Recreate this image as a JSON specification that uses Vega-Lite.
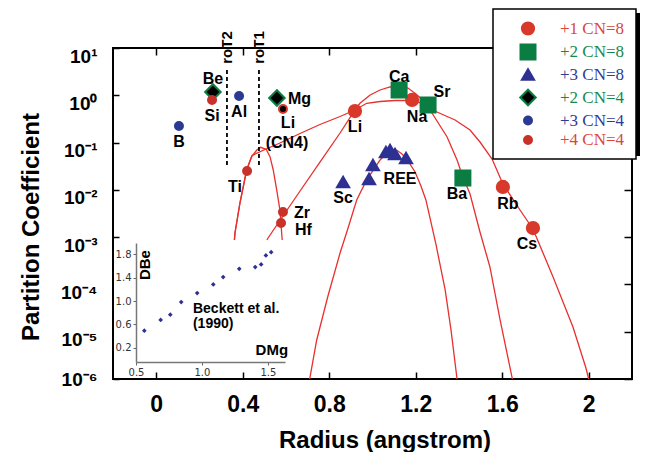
{
 "$schema": "https://vega.github.io/schema/vega-lite/v6.json",
 "width": 519,
 "height": 331,
 "autosize": "none",
 "padding": {"left": 113, "top": 48, "right": 17, "bottom": 73},
 "background": "white",
 "config": {
  "view": {"stroke": "black", "strokeWidth": 2},
  "axis": {"grid": false, "domain": false, "tickColor": "black", "tickWidth": 1.5, "labelFont": "Liberation Sans", "titleFont": "Liberation Sans", "labelColor": "black", "titleColor": "black"},
  "text": {"font": "Liberation Sans", "fontWeight": "bold", "fontSize": 16, "color": "black"},
  "legend": {"strokeWidth": 1.5}
 },
 "datasets": {
  "pts": [
   {"el": "Li", "r": 0.919, "D": 0.465, "grp": "+1 CN=8"},
   {"el": "Na", "r": 1.183, "D": 0.795, "grp": "+1 CN=8"},
   {"el": "Rb", "r": 1.603, "D": 0.0115, "grp": "+1 CN=8"},
   {"el": "Cs", "r": 1.742, "D": 0.00156, "grp": "+1 CN=8"},
   {"el": "Ca", "r": 1.123, "D": 1.294, "grp": "+2 CN=8"},
   {"el": "Sr", "r": 1.257, "D": 0.623, "grp": "+2 CN=8"},
   {"el": "Ba", "r": 1.418, "D": 0.0178, "grp": "+2 CN=8"},
   {"el": "Sc", "r": 0.864, "D": 0.0147, "grp": "+3 CN=8"},
   {"el": "REE1", "r": 0.984, "D": 0.0170, "grp": "+3 CN=8"},
   {"el": "REE2", "r": 1.002, "D": 0.0336, "grp": "+3 CN=8"},
   {"el": "REE3", "r": 1.062, "D": 0.0632, "grp": "+3 CN=8"},
   {"el": "REE4", "r": 1.081, "D": 0.0697, "grp": "+3 CN=8"},
   {"el": "REE5", "r": 1.104, "D": 0.0573, "grp": "+3 CN=8"},
   {"el": "REE6", "r": 1.155, "D": 0.0472, "grp": "+3 CN=8"},
   {"el": "Be", "r": 0.262, "D": 1.174, "grp": "+2 CN=4"},
   {"el": "Mg", "r": 0.558, "D": 0.876, "grp": "+2 CN=4"},
   {"el": "B", "r": 0.105, "D": 0.224, "grp": "+3 CN=4"},
   {"el": "Al", "r": 0.383, "D": 0.966, "grp": "+3 CN=4"},
   {"el": "Si", "r": 0.258, "D": 0.795, "grp": "+4 CN=4"},
   {"el": "Ti", "r": 0.420, "D": 0.0251, "grp": "+4 CN=4"},
   {"el": "Zr", "r": 0.586, "D": 0.0034, "grp": "+4 CN=4"},
   {"el": "Hf", "r": 0.577, "D": 0.00199, "grp": "+4 CN=4"},
   {"el": "LiCN4", "r": 0.586, "D": 0.513, "grp": "Li4"}
  ],
  "curves": [
   {"curve": "c4", "r": 0.3615, "D": 0.000871},
   {"curve": "c4", "r": 0.364, "D": 0.001225},
   {"curve": "c4", "r": 0.387, "D": 0.00527},
   {"curve": "c4", "r": 0.418, "D": 0.0263},
   {"curve": "c4", "r": 0.441, "D": 0.0503},
   {"curve": "c4", "r": 0.465, "D": 0.0697},
   {"curve": "c4", "r": 0.483, "D": 0.0795},
   {"curve": "c4", "r": 0.508, "D": 0.0721},
   {"curve": "c4", "r": 0.526, "D": 0.0503},
   {"curve": "c4", "r": 0.541, "D": 0.0263},
   {"curve": "c4", "r": 0.557, "D": 0.00994},
   {"curve": "c4", "r": 0.572, "D": 0.00375},
   {"curve": "c4", "r": 0.580, "D": 0.001225},
   {"curve": "c4", "r": 0.5825, "D": 0.000871},
   {"curve": "c1", "r": 0.3615, "D": 0.000871},
   {"curve": "c1", "r": 0.364, "D": 0.001225},
   {"curve": "c1", "r": 0.387, "D": 0.00527},
   {"curve": "c1", "r": 0.418, "D": 0.0263},
   {"curve": "c1", "r": 0.443, "D": 0.0533},
   {"curve": "c1", "r": 0.503, "D": 0.0714},
   {"curve": "c1", "r": 0.572, "D": 0.098},
   {"curve": "c1", "r": 0.665, "D": 0.1556},
   {"curve": "c1", "r": 0.757, "D": 0.2412},
   {"curve": "c1", "r": 0.850, "D": 0.356},
   {"curve": "c1", "r": 0.919, "D": 0.489},
   {"curve": "c1", "r": 0.973, "D": 0.677},
   {"curve": "c1", "r": 1.035, "D": 0.739},
   {"curve": "c1", "r": 1.104, "D": 0.776},
   {"curve": "c1", "r": 1.183, "D": 0.776},
   {"curve": "c1", "r": 1.243, "D": 0.654},
   {"curve": "c1", "r": 1.298, "D": 0.443},
   {"curve": "c1", "r": 1.382, "D": 0.300},
   {"curve": "c1", "r": 1.451, "D": 0.1845},
   {"curve": "c1", "r": 1.497, "D": 0.1028},
   {"curve": "c1", "r": 1.553, "D": 0.0449},
   {"curve": "c1", "r": 1.603, "D": 0.0133},
   {"curve": "c1", "r": 1.682, "D": 0.00375},
   {"curve": "c1", "r": 1.742, "D": 0.00149},
   {"curve": "c1", "r": 1.835, "D": 0.000144},
   {"curve": "c1", "r": 1.927, "D": 0.0000126},
   {"curve": "c1", "r": 1.987, "D": 0.00000171},
   {"curve": "c1", "r": 2.001, "D": 0.00000095},
   {"curve": "c2", "r": 0.512, "D": 0.000871},
   {"curve": "c2", "r": 0.517, "D": 0.00096},
   {"curve": "c2", "r": 0.586, "D": 0.0028},
   {"curve": "c2", "r": 0.665, "D": 0.00946},
   {"curve": "c2", "r": 0.757, "D": 0.0388},
   {"curve": "c2", "r": 0.850, "D": 0.1594},
   {"curve": "c2", "r": 0.919, "D": 0.489},
   {"curve": "c2", "r": 0.942, "D": 0.677},
   {"curve": "c2", "r": 0.989, "D": 1.014},
   {"curve": "c2", "r": 1.035, "D": 1.294},
   {"curve": "c2", "r": 1.081, "D": 1.497},
   {"curve": "c2", "r": 1.127, "D": 1.572},
   {"curve": "c2", "r": 1.164, "D": 1.426},
   {"curve": "c2", "r": 1.201, "D": 1.065},
   {"curve": "c2", "r": 1.257, "D": 0.623},
   {"curve": "c2", "r": 1.275, "D": 0.422},
   {"curve": "c2", "r": 1.345, "D": 0.1312},
   {"curve": "c2", "r": 1.391, "D": 0.0428},
   {"curve": "c2", "r": 1.418, "D": 0.0187},
   {"curve": "c2", "r": 1.451, "D": 0.00818},
   {"curve": "c2", "r": 1.497, "D": 0.001285},
   {"curve": "c2", "r": 1.543, "D": 0.000234},
   {"curve": "c2", "r": 1.590, "D": 0.0000177},
   {"curve": "c2", "r": 1.645, "D": 0.0000011},
   {"curve": "c2", "r": 1.650, "D": 0.000000824},
   {"curve": "c3", "r": 0.7087, "D": 0.00000095},
   {"curve": "c3", "r": 0.742, "D": 0.00000669},
   {"curve": "c3", "r": 0.794, "D": 0.000057},
   {"curve": "c3", "r": 0.850, "D": 0.000462},
   {"curve": "c3", "r": 0.887, "D": 0.00156},
   {"curve": "c3", "r": 0.927, "D": 0.00611},
   {"curve": "c3", "r": 0.973, "D": 0.0162},
   {"curve": "c3", "r": 1.035, "D": 0.0428},
   {"curve": "c3", "r": 1.072, "D": 0.0632},
   {"curve": "c3", "r": 1.092, "D": 0.0700},
   {"curve": "c3", "r": 1.113, "D": 0.0685},
   {"curve": "c3", "r": 1.135, "D": 0.058},
   {"curve": "c3", "r": 1.158, "D": 0.0449},
   {"curve": "c3", "r": 1.197, "D": 0.0239},
   {"curve": "c3", "r": 1.224, "D": 0.01208},
   {"curve": "c3", "r": 1.247, "D": 0.00611},
   {"curve": "c3", "r": 1.294, "D": 0.000683},
   {"curve": "c3", "r": 1.336, "D": 0.0000763},
   {"curve": "c3", "r": 1.363, "D": 0.0000109},
   {"curve": "c3", "r": 1.391, "D": 0.000001},
   {"curve": "c3", "r": 1.392, "D": 0.00000082}
  ],
  "r0": [
   {"lab": "roT2", "r": 0.327},
   {"lab": "roT1", "r": 0.475}
  ],
  "inset": [
   {"dmg": 0.563, "dbe": 0.494},
   {"dmg": 0.687, "dbe": 0.677},
   {"dmg": 0.760, "dbe": 0.767},
   {"dmg": 0.843, "dbe": 0.983},
   {"dmg": 0.964, "dbe": 1.136},
   {"dmg": 1.086, "dbe": 1.284},
   {"dmg": 1.161, "dbe": 1.409},
   {"dmg": 1.283, "dbe": 1.550},
   {"dmg": 1.404, "dbe": 1.579},
   {"dmg": 1.449, "dbe": 1.625},
   {"dmg": 1.485, "dbe": 1.778},
   {"dmg": 1.525, "dbe": 1.834}
  ]
 },
 "layer": [
  {
   "data": {"name": "curves"},
   "mark": {"type": "line", "clip": true, "color": "#e8302e", "strokeWidth": 1.3},
   "encoding": {
    "x": {"field": "r", "type": "quantitative", "scale": {"domain": [-0.2, 2.2], "nice": false, "zero": false},
          "axis": {"orient": "top", "values": [0, 0.4, 0.8, 1.2, 1.6, 2], "labels": false, "tickSize": -7, "title": null}},
    "y": {"field": "D", "type": "quantitative", "scale": {"type": "log", "domain": [0.000001, 10], "nice": false},
          "axis": {"orient": "right", "values": [0.000001, 0.00001, 0.0001, 0.001, 0.01, 0.1, 1, 10], "labels": false, "tickSize": -8, "title": null}},
    "detail": {"field": "curve"}
   }
  },
  {
   "data": {"name": "r0"},
   "mark": {"type": "rule", "color": "black", "strokeWidth": 1.8, "strokeDash": [4, 3]},
   "encoding": {
    "x": {"field": "r", "type": "quantitative", "scale": {"domain": [-0.2, 2.2], "nice": false, "zero": false}, "axis": null},
    "y": {"datum": 3.43, "type": "quantitative", "scale": {"type": "log", "domain": [0.000001, 10], "nice": false}, "axis": null},
    "y2": {"datum": 0.029}
   }
  },
  {
   "data": {"values": [{}]},
   "mark": {"type": "rect", "fill": "black"},
   "encoding": {
    "x": {"datum": 1.5757, "type": "quantitative", "scale": {"domain": [-0.2, 2.2], "nice": false, "zero": false}, "axis": null},
    "x2": {"datum": 2.237},
    "y": {"datum": 54.95, "type": "quantitative", "scale": {"type": "log", "domain": [0.000001, 10], "nice": false}, "axis": null},
    "y2": {"datum": 0.052}
   }
  },
  {
   "data": {"name": "pts"},
   "transform": [{"filter": "datum.grp != 'Li4'"}],
   "mark": {"type": "point", "filled": true, "strokeWidth": 2, "opacity": 1},
   "encoding": {
    "x": {"field": "r", "type": "quantitative", "scale": {"domain": [-0.2, 2.2], "nice": false, "zero": false},
          "axis": {"orient": "bottom", "values": [0, 0.4, 0.8, 1.2, 1.6, 2], "format": "~g", "tickSize": -7, "labelPadding": 21,
                   "labelFontSize": 23, "labelFontWeight": "bold", "labelFlush": false, "labelOverlap": false,
                   "title": "Radius (angstrom)", "titleFontSize": 24, "titleFontWeight": "bold",
                   "titleX": 271.5, "titleY": 68, "titleBaseline": "alphabetic", "titleAlign": "center"}},
    "y": {"field": "D", "type": "quantitative", "scale": {"type": "log", "domain": [0.000001, 10], "nice": false},
          "axis": {"orient": "left", "values": [0.000001, 0.00001, 0.0001, 0.001, 0.01, 0.1, 1, 10],
                   "labelExpr": "['10⁻⁶','10⁻⁵','10⁻⁴','10⁻³','10⁻²','10⁻¹','10⁰','10¹'][round(log(datum.value)/LN10)+6]",
                   "tickSize": -6, "labelPadding": 22, "labelFontSize": 19, "labelFontWeight": "bold",
                   "labelOffset": {"condition": {"test": "datum.value < 0.000002", "value": 0}, "value": 8},
                   "tickOpacity": {"condition": {"test": "datum.value < 0.0002 && datum.value > 0.000002", "value": 0}, "value": 1},
                   "labelFlush": false, "labelOverlap": false,
                   "title": "Partition Coefficient", "titleFontSize": 24, "titleFontWeight": "bold", "titleAngle": 270,
                   "titleX": -75, "titleY": 178.5, "titleBaseline": "alphabetic", "titleAlign": "center"}},
    "fill": {"field": "grp", "type": "nominal",
             "scale": {"domain": ["+1 CN=8", "+2 CN=8", "+3 CN=8", "+2 CN=4", "+3 CN=4", "+4 CN=4"],
                       "range": ["#d8392b", "#0a7d43", "#2e3192", "#000000", "#2b3a93", "#c8322b"]},
             "legend": {"title": null, "orient": "none", "legendX": 380, "legendY": -39, "padding": 11,
                        "strokeColor": "black", "fillColor": "white",
                        "labelFont": "Liberation Serif", "labelFontSize": 17, "labelFontWeight": "normal",
                        "labelColor": {"expr": "slice(datum.label,0,2) == '+2' ? '#168a4c' : slice(datum.label,0,2) == '+3' ? '#2f3c95' : '#d9473a'"},
                        "rowPadding": 1.5, "labelOffset": 23, "symbolOffset": 15, "symbolStrokeWidth": 2, "labelLimit": 200}},
    "stroke": {"field": "grp", "type": "nominal",
               "scale": {"domain": ["+1 CN=8", "+2 CN=8", "+3 CN=8", "+2 CN=4", "+3 CN=4", "+4 CN=4"],
                         "range": ["#d8392b", "#0a7d43", "#2e3192", "#0a7d43", "#2b3a93", "#c8322b"]}},
    "shape": {"field": "grp", "type": "nominal",
              "scale": {"domain": ["+1 CN=8", "+2 CN=8", "+3 CN=8", "+2 CN=4", "+3 CN=4", "+4 CN=4"],
                        "range": ["circle", "square", "triangle-up", "diamond", "circle", "circle"]}},
    "size": {"field": "grp", "type": "nominal",
             "scale": {"type": "ordinal", "domain": ["+1 CN=8", "+2 CN=8", "+3 CN=8", "+2 CN=4", "+3 CN=4", "+4 CN=4"],
                       "range": [150, 225, 150, 240, 64, 64]}}
   }
  },
  {
   "data": {"name": "pts"},
   "transform": [{"filter": "datum.grp == 'Li4'"}],
   "mark": {"type": "point", "shape": "circle", "filled": true, "fill": "black", "stroke": "#d8392b", "strokeWidth": 2, "size": 64, "opacity": 1},
   "encoding": {
    "x": {"field": "r", "type": "quantitative", "scale": {"domain": [-0.2, 2.2], "nice": false, "zero": false}, "axis": null},
    "y": {"field": "D", "type": "quantitative", "scale": {"type": "log", "domain": [0.000001, 10], "nice": false}, "axis": null}
   }
  },
  {
   "data": {"name": "pts"},
   "transform": [{"filter": {"field": "el", "oneOf": ["Si", "Al", "B", "Li", "Sc"]}}],
   "mark": {"type": "text", "dy": 16, "align": "center", "baseline": "middle"},
   "encoding": {
    "x": {"field": "r", "type": "quantitative", "scale": {"domain": [-0.2, 2.2], "nice": false, "zero": false}, "axis": null},
    "y": {"field": "D", "type": "quantitative", "scale": {"type": "log", "domain": [0.000001, 10], "nice": false}, "axis": null},
    "text": {"field": "el"}
   }
  },
  {
   "data": {"name": "pts"},
   "transform": [{"filter": {"field": "el", "oneOf": ["Na", "Rb"]}}],
   "mark": {"type": "text", "dx": 5, "dy": 17, "align": "center", "baseline": "middle"},
   "encoding": {
    "x": {"field": "r", "type": "quantitative", "scale": {"domain": [-0.2, 2.2], "nice": false, "zero": false}, "axis": null},
    "y": {"field": "D", "type": "quantitative", "scale": {"type": "log", "domain": [0.000001, 10], "nice": false}, "axis": null},
    "text": {"field": "el"}
   }
  },
  {
   "data": {"name": "pts"},
   "transform": [{"filter": {"field": "el", "oneOf": ["Ba", "Cs"]}}],
   "mark": {"type": "text", "dx": -6, "dy": 16, "align": "center", "baseline": "middle"},
   "encoding": {
    "x": {"field": "r", "type": "quantitative", "scale": {"domain": [-0.2, 2.2], "nice": false, "zero": false}, "axis": null},
    "y": {"field": "D", "type": "quantitative", "scale": {"type": "log", "domain": [0.000001, 10], "nice": false}, "axis": null},
    "text": {"field": "el"}
   }
  },
  {
   "data": {"name": "pts"},
   "transform": [{"filter": {"field": "el", "oneOf": ["Ti"]}}],
   "mark": {"type": "text", "dx": -12, "dy": 16, "align": "center", "baseline": "middle"},
   "encoding": {
    "x": {"field": "r", "type": "quantitative", "scale": {"domain": [-0.2, 2.2], "nice": false, "zero": false}, "axis": null},
    "y": {"field": "D", "type": "quantitative", "scale": {"type": "log", "domain": [0.000001, 10], "nice": false}, "axis": null},
    "text": {"field": "el"}
   }
  },
  {
   "data": {"name": "pts"},
   "transform": [{"filter": {"field": "el", "oneOf": ["Be", "Ca"]}}],
   "mark": {"type": "text", "dy": -13, "align": "center", "baseline": "middle"},
   "encoding": {
    "x": {"field": "r", "type": "quantitative", "scale": {"domain": [-0.2, 2.2], "nice": false, "zero": false}, "axis": null},
    "y": {"field": "D", "type": "quantitative", "scale": {"type": "log", "domain": [0.000001, 10], "nice": false}, "axis": null},
    "text": {"field": "el"}
   }
  },
  {
   "data": {"name": "pts"},
   "transform": [{"filter": {"field": "el", "oneOf": ["Mg", "Zr"]}}],
   "mark": {"type": "text", "dx": 11, "dy": 1, "align": "left", "baseline": "middle"},
   "encoding": {
    "x": {"field": "r", "type": "quantitative", "scale": {"domain": [-0.2, 2.2], "nice": false, "zero": false}, "axis": null},
    "y": {"field": "D", "type": "quantitative", "scale": {"type": "log", "domain": [0.000001, 10], "nice": false}, "axis": null},
    "text": {"field": "el"}
   }
  },
  {
   "data": {"name": "pts"},
   "transform": [{"filter": {"field": "el", "oneOf": ["Hf"]}}],
   "mark": {"type": "text", "dx": 14, "dy": 7, "align": "left", "baseline": "middle"},
   "encoding": {
    "x": {"field": "r", "type": "quantitative", "scale": {"domain": [-0.2, 2.2], "nice": false, "zero": false}, "axis": null},
    "y": {"field": "D", "type": "quantitative", "scale": {"type": "log", "domain": [0.000001, 10], "nice": false}, "axis": null},
    "text": {"field": "el"}
   }
  },
  {
   "data": {"name": "pts"},
   "transform": [{"filter": {"field": "el", "oneOf": ["Sr"]}}],
   "mark": {"type": "text", "dx": 14, "dy": -13, "align": "center", "baseline": "middle"},
   "encoding": {
    "x": {"field": "r", "type": "quantitative", "scale": {"domain": [-0.2, 2.2], "nice": false, "zero": false}, "axis": null},
    "y": {"field": "D", "type": "quantitative", "scale": {"type": "log", "domain": [0.000001, 10], "nice": false}, "axis": null},
    "text": {"field": "el"}
   }
  },
  {
   "data": {"name": "pts"},
   "transform": [{"filter": {"field": "el", "oneOf": ["REE1"]}}],
   "mark": {"type": "text", "dx": 31, "dy": 0, "align": "center", "baseline": "middle"},
   "encoding": {
    "x": {"field": "r", "type": "quantitative", "scale": {"domain": [-0.2, 2.2], "nice": false, "zero": false}, "axis": null},
    "y": {"field": "D", "type": "quantitative", "scale": {"type": "log", "domain": [0.000001, 10], "nice": false}, "axis": null},
    "text": {"value": "REE"}
   }
  },
  {
   "data": {"name": "pts"},
   "transform": [{"filter": {"field": "el", "oneOf": ["LiCN4"]}}],
   "mark": {"type": "text", "dx": 5, "dy": 14, "align": "center", "baseline": "middle"},
   "encoding": {
    "x": {"field": "r", "type": "quantitative", "scale": {"domain": [-0.2, 2.2], "nice": false, "zero": false}, "axis": null},
    "y": {"field": "D", "type": "quantitative", "scale": {"type": "log", "domain": [0.000001, 10], "nice": false}, "axis": null},
    "text": {"value": "Li"}
   }
  },
  {
   "data": {"name": "pts"},
   "transform": [{"filter": {"field": "el", "oneOf": ["LiCN4"]}}],
   "mark": {"type": "text", "dx": 4, "dy": 34, "align": "center", "baseline": "middle"},
   "encoding": {
    "x": {"field": "r", "type": "quantitative", "scale": {"domain": [-0.2, 2.2], "nice": false, "zero": false}, "axis": null},
    "y": {"field": "D", "type": "quantitative", "scale": {"type": "log", "domain": [0.000001, 10], "nice": false}, "axis": null},
    "text": {"value": "(CN4)"}
   }
  },
  {
   "data": {"name": "r0"},
   "mark": {"type": "text", "angle": 270, "fontSize": 15, "align": "center", "baseline": "middle"},
   "encoding": {
    "x": {"field": "r", "type": "quantitative", "scale": {"domain": [-0.2, 2.2], "nice": false, "zero": false}, "axis": null},
    "y": {"datum": 10.25, "type": "quantitative", "scale": {"type": "log", "domain": [0.000001, 10], "nice": false}, "axis": null},
    "text": {"field": "lab"}
   }
  },
  {
   "data": {"name": "inset"},
   "mark": {"type": "point", "shape": "diamond", "filled": true, "size": 22, "color": "#2e3192", "opacity": 1},
   "encoding": {
    "x": {"field": "dmg", "type": "quantitative", "scale": {"domain": [0.5, 1.63], "range": [23, 172], "nice": false, "zero": false},
          "axis": {"orient": "bottom", "offset": -17, "values": [0.5, 1.0, 1.5], "format": ".1f", "labelFont": "DejaVu Sans", "labelFontSize": 10,
                   "labelColor": "#333333", "tickSize": 3, "tickColor": "#666666", "tickWidth": 1, "labelPadding": 2,
                   "domain": true, "domainColor": "#777777", "domainWidth": 1.5, "title": null, "labelFlush": false}},
    "y": {"field": "dbe", "type": "quantitative", "scale": {"domain": [-0.04, 1.99], "range": [314, 195], "nice": false, "zero": false},
          "axis": {"orient": "left", "offset": -23, "values": [0.2, 0.6, 1.0, 1.4, 1.8], "format": ".1f", "labelFont": "DejaVu Sans", "labelFontSize": 10,
                   "labelColor": "#333333", "tickSize": 3, "tickColor": "#666666", "tickWidth": 1, "labelPadding": 2,
                   "domain": true, "domainColor": "#777777", "domainWidth": 1.5, "title": null, "labelFlush": false}}
   }
  },
  {
   "data": {"values": [{}]},
   "mark": {"type": "text", "angle": 270, "fontSize": 15, "align": "center", "baseline": "middle"},
   "encoding": {
    "x": {"datum": 0.568, "type": "quantitative", "scale": {"domain": [0.5, 1.63], "range": [23, 172], "nice": false, "zero": false}, "axis": null},
    "y": {"datum": 1.613, "type": "quantitative", "scale": {"domain": [-0.04, 1.99], "range": [314, 195], "nice": false, "zero": false}, "axis": null},
    "text": {"value": "DBe"}
   }
  },
  {
   "data": {"values": [{}]},
   "mark": {"type": "text", "fontSize": 15, "align": "center", "baseline": "middle"},
   "encoding": {
    "x": {"datum": 1.53, "type": "quantitative", "scale": {"domain": [0.5, 1.63], "range": [23, 172], "nice": false, "zero": false}, "axis": null},
    "y": {"datum": 0.166, "type": "quantitative", "scale": {"domain": [-0.04, 1.99], "range": [314, 195], "nice": false, "zero": false}, "axis": null},
    "text": {"value": "DMg"}
   }
  },
  {
   "data": {"values": [{}]},
   "mark": {"type": "text", "fontSize": 14, "align": "left", "baseline": "alphabetic"},
   "encoding": {
    "x": {"datum": 0.932, "type": "quantitative", "scale": {"domain": [0.5, 1.63], "range": [23, 172], "nice": false, "zero": false}, "axis": null},
    "y": {"datum": 0.796, "type": "quantitative", "scale": {"domain": [-0.04, 1.99], "range": [314, 195], "nice": false, "zero": false}, "axis": null},
    "text": {"value": "Beckett et al."}
   }
  },
  {
   "data": {"values": [{}]},
   "mark": {"type": "text", "fontSize": 14, "align": "left", "baseline": "alphabetic"},
   "encoding": {
    "x": {"datum": 0.932, "type": "quantitative", "scale": {"domain": [0.5, 1.63], "range": [23, 172], "nice": false, "zero": false}, "axis": null},
    "y": {"datum": 0.54, "type": "quantitative", "scale": {"domain": [-0.04, 1.99], "range": [314, 195], "nice": false, "zero": false}, "axis": null},
    "text": {"value": "(1990)"}
   }
  }
 ],
 "resolve": {"scale": {"x": "independent", "y": "independent"}, "axis": {"x": "independent", "y": "independent"}}
}
